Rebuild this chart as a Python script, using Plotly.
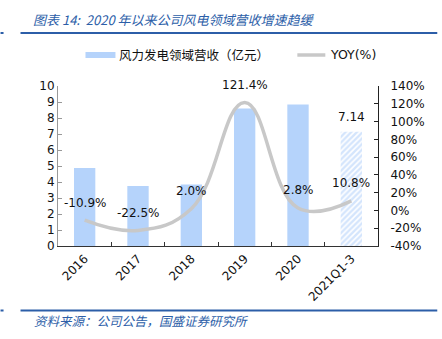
import plotly.graph_objects as go

categories = ["2016", "2017", "2018", "2019", "2020", "2021Q1-3"]
revenue = [4.88, 3.75, 3.85, 8.6, 8.85, 7.14]
yoy = [-10.9, -22.5, 2.0, 121.4, 2.8, 10.8]
yoy_labels = ["-10.9%", "-22.5%", "2.0%", "121.4%", "2.8%", "10.8%"]
left_ticks = list(range(0, 11))
right_ticks = list(range(-40, 141, 20))

BAR = "#b5d3fb"
HATCH = "#a9cbfa"
LINE = "#c8c8c8"
BLUE = "#2c5ea8"
FONT = "DejaVu Sans"
CJK = "Noto Sans CJK SC"

W, H = 442, 339
PL, PR, PT, PB = 57.5, 377.7, 86, 246  # plot area in pixels

def px(x, y):
    return (x - PL) / (PR - PL), (PB - y) / (PB - PT)

idx = list(range(len(categories)))

fig = go.Figure()

fig.add_trace(go.Bar(
    x=idx[:-1], y=revenue[:-1], marker=dict(color=BAR, line=dict(width=0)),
    width=0.4, showlegend=False, yaxis="y", hoverinfo="skip"))
fig.add_trace(go.Bar(
    x=idx[-1:], y=revenue[-1:],
    marker=dict(color="white", line=dict(width=0),
                pattern=dict(shape="/", fgcolor=HATCH, bgcolor="white", size=4, solidity=0.6)),
    width=0.4, showlegend=False, yaxis="y", hoverinfo="skip"))

fig.add_trace(go.Scatter(
    x=idx, y=yoy, mode="lines", yaxis="y2",
    line=dict(color=LINE, width=3.5, shape="spline", smoothing=1.2),
    showlegend=False, hoverinfo="skip"))

annotations = []
for i, v, t in zip(idx, yoy, yoy_labels):
    annotations.append(dict(x=i, y=v, xref="x", yref="y2", text=t, showarrow=False,
                            yshift=17.5, font=dict(family=FONT, size=12, color="#111")))
annotations.append(dict(x=idx[-1], y=revenue[-1], xref="x", yref="y",
                        text=f"{revenue[-1]:.2f}", showarrow=False, yshift=15,
                        font=dict(family=FONT, size=12, color="#111")))

def paper_text(x, y, text, family, size, color):
    xp, yp = px(x, y)
    return dict(x=xp, y=yp, xref="paper", yref="paper", text=text, showarrow=False,
                xanchor="left", yanchor="middle", font=dict(family=family, size=size, color=color))

annotations.append(paper_text(30, 20, "<i>图表 14:  2020 年以来公司风电领域营收增速趋缓</i>", CJK, 13, BLUE))
annotations.append(paper_text(31, 320, "<i>资料来源：公司公告，国盛证券研究所</i>", CJK, 12.5, BLUE))
annotations.append(paper_text(117, 55, "风力发电领域营收（亿元）", CJK, 12.5, "#111"))
annotations.append(paper_text(328, 55, "YOY(%)", FONT, 12.5, "#111"))

def px_shape(x0, y0, x1, y1, **kw):
    a0, b0 = px(x0, y0)
    a1, b1 = px(x1, y1)
    return dict(xref="paper", yref="paper", x0=a0, x1=a1, y0=b0, y1=b1, **kw)

shapes = [
    px_shape(20, 33, 437, 33, type="line", line=dict(color=BLUE, width=2)),
    px_shape(0, 33, 3, 33, type="line", line=dict(color=BLUE, width=2)),
    px_shape(20, 310.5, 437, 310.5, type="line", line=dict(color=BLUE, width=2)),
    px_shape(0, 310.5, 3, 310.5, type="line", line=dict(color=BLUE, width=2)),
    px_shape(85, 52, 115, 58, type="rect", fillcolor=BAR, line=dict(width=0)),
    px_shape(297, 55, 325, 55, type="line", line=dict(color=LINE, width=3.5)),
]

fig.update_layout(
    width=W, height=H, margin=dict(l=PL, r=W - PR, t=PT, b=H - PB, autoexpand=False),
    paper_bgcolor="white", plot_bgcolor="white",
    showlegend=False,
    annotations=annotations, shapes=shapes,
    font=dict(family=FONT, size=12, color="#111"),
    xaxis=dict(range=[-0.5, len(categories) - 0.5], tickvals=idx, ticktext=categories,
               showline=True, linecolor="#333", linewidth=1,
               ticks="", tickangle=-45, tickfont=dict(family=FONT, size=12, color="#111"),
               showgrid=False, zeroline=False),
    yaxis=dict(range=[0, 10], tickvals=left_ticks, showline=True, linecolor="#999",
               ticks="inside", ticklen=4, tickcolor="#999", showgrid=False, zeroline=False,
               tickfont=dict(family=FONT, size=12, color="#111")),
    yaxis2=dict(range=[-40, 140], tickvals=right_ticks, ticktext=[f"{v}%" for v in right_ticks],
                overlaying="y", side="right", showline=True, linecolor="#222",
                ticks="inside", ticklen=4, tickcolor="#222", showgrid=False, zeroline=False,
                ticklabelstandoff=9,
                tickfont=dict(family=FONT, size=12, color="#111")),
    xaxis2=dict(range=[-0.5, len(categories) - 0.5], overlaying="x", showticklabels=False,
                tickvals=[i + 0.5 for i in idx[:-1]], ticks="inside", ticklen=4,
                tickcolor="#333", showline=False, showgrid=False, zeroline=False),
)
fig.add_trace(go.Scatter(x=[idx[0]], y=[revenue[0]], xaxis="x2", yaxis="y", mode="markers",
                         marker=dict(opacity=0), showlegend=False, hoverinfo="skip"))

fig.write_html("out.html")
